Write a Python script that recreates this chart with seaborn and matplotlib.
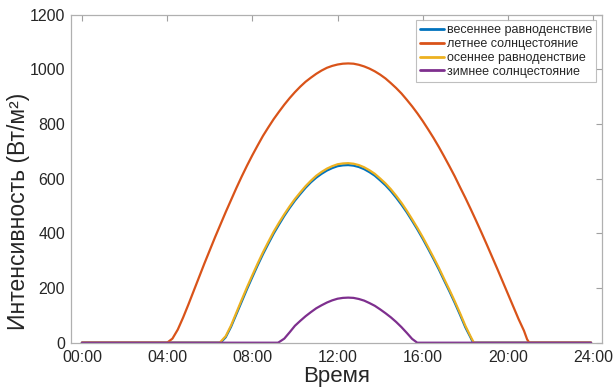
import matplotlib
matplotlib.use("Agg")
import matplotlib.pyplot as plt
import seaborn as sns
import pandas as pd

# Time (hours) and intensity (W/m^2)
spring_t = [0, 6.51, 6.75, 7.0, 7.25, 7.5, 7.75, 8.0, 8.25, 8.5, 8.75, 9.0, 9.25, 9.5, 9.75,
            10.0, 10.25, 10.5, 10.75, 11.0, 11.25, 11.5, 11.75, 12.0, 12.25, 12.5, 12.75,
            13.0, 13.25, 13.5, 13.75, 14.0, 14.25, 14.5, 14.75, 15.0, 15.25, 15.5, 15.75,
            16.0, 16.25, 16.5, 16.75, 17.0, 17.25, 17.5, 17.75, 18.0, 18.25, 18.36, 23.9]
spring_v = [0, 0, 20, 58, 104, 150, 196, 240, 283, 324, 362, 399, 432, 464, 493,
            520, 544, 567, 587, 604, 618, 630, 639, 646, 649, 650, 648,
            643, 635, 624, 611, 594, 576, 555, 531, 505, 477, 446, 414,
            380, 344, 307, 269, 228, 188, 146, 102, 56, 18, 0, 0]

summer_t = [0, 4.0, 4.25, 4.5, 4.75, 5.0, 5.25, 5.5, 5.75, 6.0, 6.25, 6.5, 6.75, 7.0, 7.25,
            7.5, 7.75, 8.0, 8.25, 8.5, 8.75, 9.0, 9.25, 9.5, 9.75, 10.0, 10.25, 10.5, 10.75,
            11.0, 11.25, 11.5, 11.75, 12.0, 12.25, 12.5, 12.75, 13.0, 13.25, 13.5, 13.75,
            14.0, 14.25, 14.5, 14.75, 15.0, 15.25, 15.5, 15.75, 16.0, 16.25, 16.5, 16.75,
            17.0, 17.25, 17.5, 17.75, 18.0, 18.25, 18.5, 18.75, 19.0, 19.25, 19.5, 19.75,
            20.0, 20.25, 20.5, 20.75, 20.9, 21.0, 23.9]
summer_v = [0, 0, 15, 48, 92, 140, 190, 240, 290, 338, 386, 432, 478, 522, 566,
            608, 648, 686, 722, 757, 788, 818, 845, 871, 895, 917, 937, 955, 970,
            984, 996, 1006, 1013, 1018, 1021, 1022, 1021, 1017, 1011, 1003, 993,
            981, 967, 950, 932, 912, 889, 865, 839, 811, 781, 750, 717,
            682, 646, 609, 569, 530, 489, 447, 404, 360, 315, 270, 224,
            178, 132, 86, 44, 12, 0, 0]

autumn_t = [0, 6.47, 6.75, 7.0, 7.25, 7.5, 7.75, 8.0, 8.25, 8.5, 8.75, 9.0, 9.25, 9.5, 9.75,
            10.0, 10.25, 10.5, 10.75, 11.0, 11.25, 11.5, 11.75, 12.0, 12.25, 12.5, 12.75,
            13.0, 13.25, 13.5, 13.75, 14.0, 14.25, 14.5, 14.75, 15.0, 15.25, 15.5, 15.75,
            16.0, 16.25, 16.5, 16.75, 17.0, 17.25, 17.5, 17.75, 18.0, 18.25, 18.40, 23.9]
autumn_v = [0, 0, 24, 63, 110, 157, 203, 247, 290, 331, 369, 406, 439, 470, 499,
            526, 550, 573, 593, 611, 625, 637, 646, 653, 656, 657, 655,
            650, 642, 631, 618, 601, 583, 562, 538, 512, 483, 452, 420,
            386, 350, 313, 275, 234, 194, 152, 108, 62, 22, 0, 0]

winter_t = [0, 9.2, 9.25, 9.5, 9.75, 10.0, 10.25, 10.5, 10.75, 11.0, 11.25, 11.5, 11.75,
            12.0, 12.25, 12.5, 12.75, 13.0, 13.25, 13.5, 13.75, 14.0, 14.25, 14.5, 14.75,
            15.0, 15.25, 15.5, 15.74, 23.9]
winter_v = [0, 0, 2, 15, 38, 62, 80, 97, 112, 126, 137, 147, 155,
            161, 164, 165, 164, 160, 154, 145, 135, 122, 108, 93, 76,
            57, 36, 14, 0, 0]

labels = ["весеннее равноденствие", "летнее солнцестояние",
          "осеннее равноденствие", "зимнее солнцестояние"]
colors = ["#0072BD", "#D95319", "#EDB120", "#7E2F8E"]
xticks = [0, 4, 8, 12, 16, 20, 24]
xticklabels = ["00:00", "04:00", "08:00", "12:00", "16:00", "20:00", "24:00"]
yticks = [0, 200, 400, 600, 800, 1000, 1200]

sns.set_style("white")
plt.rcParams["font.family"] = ["Liberation Sans", "DejaVu Sans"]

fig = plt.figure(figsize=(6.14, 3.89), dpi=100)
ax = fig.add_axes([0.115, 0.119, 0.865, 0.843])

series = [(spring_t, spring_v), (summer_t, summer_v), (autumn_t, autumn_v), (winter_t, winter_v)]
for (t, v), lab, col in zip(series, labels, colors):
    df = pd.DataFrame({"t": t, "v": v})
    sns.lineplot(data=df, x="t", y="v", ax=ax, color=col, linewidth=1.6, label=lab)

ax.set_xlim(-0.53, 24.4)
ax.set_ylim(0, 1200)
ax.set_xticks(xticks)
ax.set_xticklabels(xticklabels)
ax.set_yticks(yticks)
ax.tick_params(direction="in", length=4.5, width=0.8, color="#a0a0a0",
               top=True, right=True, labelsize=11.5, labelcolor="#262626")
ax.tick_params(axis="x", pad=5)
ax.tick_params(axis="y", pad=4)
for s in ax.spines.values():
    s.set_color("#b0b0b0")
    s.set_linewidth(0.9)
ax.set_xlabel("Время", fontsize=16, color="#262626", labelpad=1)
ax.set_ylabel("Интенсивность (Вт/м²)", fontsize=16.5, color="#262626")
ax.yaxis.set_label_coords(-0.076, 0.40)

leg = ax.legend(loc="upper right", fontsize=9, frameon=True, fancybox=False,
                edgecolor="#b0b0b0", handlelength=1.9, handletextpad=0.25,
                labelspacing=0.15, borderpad=0.3, borderaxespad=0.45)
leg.get_frame().set_linewidth(0.8)
for line in leg.get_lines():
    line.set_linewidth(2)

fig.savefig("out.png", dpi=100)
